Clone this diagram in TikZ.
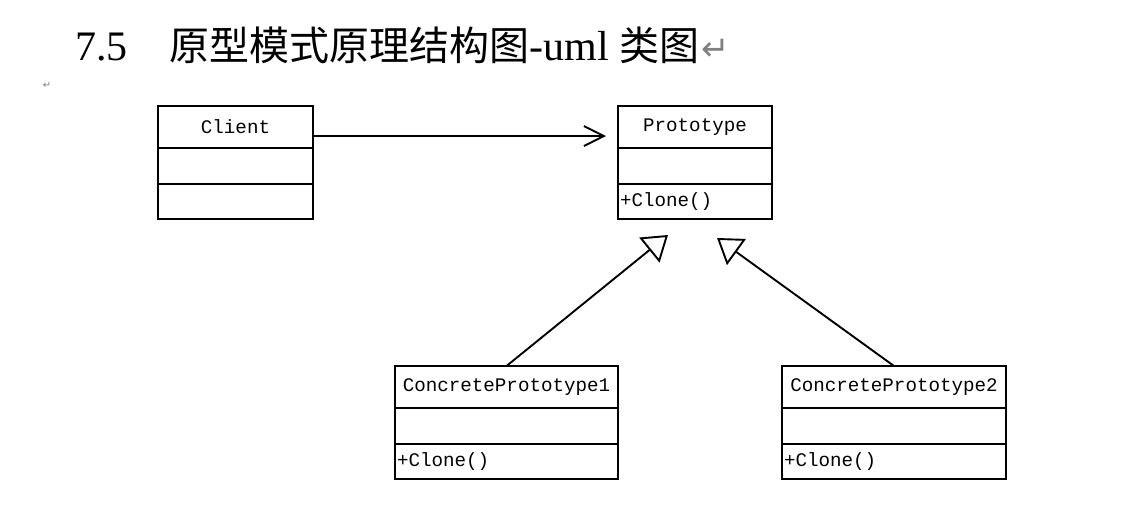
\documentclass[tikz,border=0pt]{standalone}
\usepackage{fontspec}
\setmainfont{Liberation Serif}
\setmonofont{Liberation Mono}
\newfontfamily\cjk{Noto Sans CJK SC}
\newfontfamily\symb{DejaVu Sans}
\usetikzlibrary{positioning}
\usetikzlibrary{arrows.meta}

\begin{document}
\begin{tikzpicture}[x=0.5pt,y=-0.5pt,
part/.style={draw,line width=0.95pt,outer sep=0pt,inner xsep=1pt,inner ysep=0pt,
  font=\ttfamily\fontsize{9.6}{11}\selectfont},
head/.style={part,minimum width=#1,minimum height=21pt},
mid/.style={part,minimum width=#1,minimum height=18pt},
low/.style={part,text width=#1,align=left,minimum height=17.5pt},
dep/.style={line width=0.95pt,-{Straight Barb[length=10pt,width=10pt]}},
gen/.style={line width=0.95pt,-{Triangle[open,length=12pt,width=16pt]}}]
\useasboundingbox (0,0) rectangle (1122,511);
% title line
\node[anchor=base west,inner sep=0pt,font=\fontsize{21}{25}\selectfont] (ttl) at (75,60)
  {7.5\hspace{21pt}{\cjk\fontsize{20}{25}\selectfont 原型模式原理结构图}-uml
   {\cjk\fontsize{20}{25}\selectfont 类图}\hspace{1pt}{\symb\fontsize{17}{20}\selectfont\color{gray}↵}};
\node[inner sep=0pt,font=\symb\fontsize{5}{6}\selectfont,text=gray] (pmk) at (47,85) {↵};
% classes
\node[head=77.5pt] (cli) at (235.5,127) {Client};
\node[mid=77.5pt,below=0pt of cli] (cli2) {};
\node[mid=77.5pt,minimum height=17.5pt,below=0pt of cli2] (cli3) {};
\node[head=77pt] (pro) at (695,127) {Prototype};
\node[mid=77pt,below=0pt of pro] (pro2) {};
\node[low=75pt,below=0pt of pro2] (pro3) {+Clone()};
\node[head=111.5pt] (cp1) at (506.5,387) {ConcretePrototype1};
\node[mid=111.5pt,below=0pt of cp1] (cp12) {};
\node[low=109.5pt,below=0pt of cp12] (cp13) {+Clone()};
\node[head=112pt] (cp2) at (894,387) {ConcretePrototype2};
\node[mid=112pt,below=0pt of cp2] (cp22) {};
\node[low=110pt,below=0pt of cp22] (cp23) {+Clone()};
% relations
\draw[dep] ([yshift=-4.5pt]cli.east) -- ([yshift=-4.5pt,xshift=-6pt]pro.west);
\draw[gen] (cp1.north) -- ([shift={(-27,16)}]pro3.south);
\draw[gen] (cp2.north) -- ([shift={(22,19)}]pro3.south);
\end{tikzpicture}
\end{document}
